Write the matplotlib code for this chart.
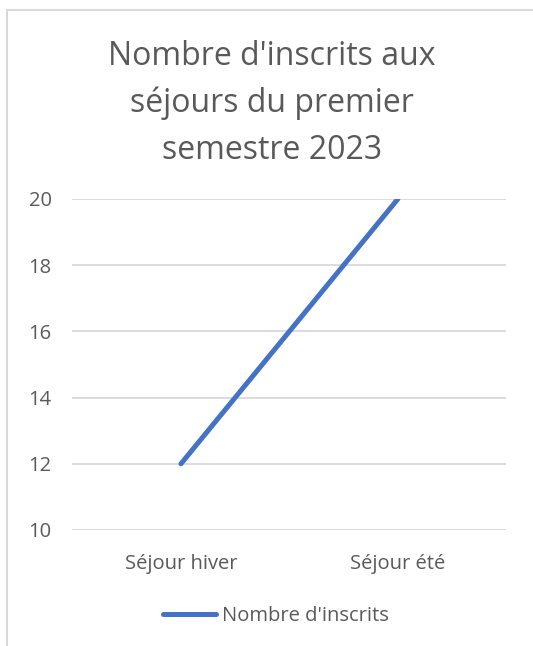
import matplotlib
matplotlib.use("Agg")
from matplotlib import pyplot as plt
from matplotlib.patches import Rectangle

categories = ["Séjour hiver", "Séjour été"]
inscrits = [12, 20]
yticks = [10, 12, 14, 16, 18, 20]
title = "Nombre d'inscrits aux\nséjours du premier\nsemestre 2023"
series_name = "Nombre d'inscrits"

plt.rcParams['font.family'] = ['Open Sans', 'DejaVu Sans']
grey = '#595959'

fig = plt.figure(figsize=(5.33, 6.46), dpi=100)
ax = fig.add_axes([0.136, 0.1796, 0.814, 0.5124])

x = range(len(categories))
ax.plot(x, inscrits, color='#4472C4', linewidth=3.6, solid_capstyle='round',
        label=series_name)
ax.set_xlim(-0.5, len(categories) - 0.5)
ax.set_ylim(yticks[0], yticks[-1])
ax.set_yticks(yticks)
ax.set_xticks(list(x))
ax.set_xticklabels(categories)
ax.yaxis.grid(True, color='#D9D9D9', linewidth=1.3)
ax.set_axisbelow(True)
for s in ax.spines.values():
    s.set_visible(False)
ax.tick_params(length=0, labelsize=14.5, labelcolor=grey)
ax.tick_params(axis='y', pad=15)
ax.tick_params(axis='x', pad=17)

fig.text(0.51, 0.84, title, ha='center', va='center', fontsize=23,
         color=grey, linespacing=1.55)

fig.legend(loc='center', bbox_to_anchor=(0.518, 0.047), frameon=False,
           fontsize=14.5, labelcolor=grey, handlelength=2.6, handletextpad=0.3)

# chart area border (light grey)
fig.patches.append(Rectangle((7 / 533, -0.1), 1.2, (636 + 0.1 * 646) / 646 + 0.0,
                             transform=fig.transFigure, fill=False,
                             edgecolor='#D9D9D9', linewidth=1.5))

fig.savefig('out.png', dpi=100)
